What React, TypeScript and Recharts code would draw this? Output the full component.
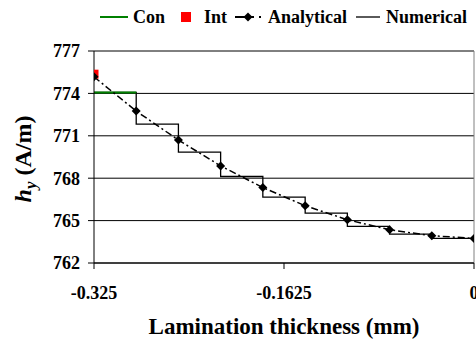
import React from 'react';
import { ComposedChart, Line, Scatter, XAxis, YAxis, CartesianGrid, ReferenceLine } from 'recharts';

const SERIF = '"Liberation Serif", "Times New Roman", Times, serif';

// node positions across the lamination (mm)
const positions = [-0.325, -0.2889, -0.2528, -0.2167, -0.1806, -0.1444, -0.1083, -0.0722, -0.0361, 0];

// analytical solution at each node
const analytical = [775.17, 772.75, 770.7, 768.87, 767.34, 766.05, 765.06, 764.35, 763.93, 763.74];

// numerical solution, one constant value per element (last repeated to close the step)
const numerical = [774.07, 771.83, 769.84, 768.12, 766.66, 765.53, 764.59, 764.05, 763.74, 763.74];

// conductor element and interface value
const conX = [-0.325, -0.2889];
const conY = [774.07, 774.07];
const intX = [-0.325];
const intY = [775.36];

const yTicks = [762, 765, 768, 771, 774, 777];
const xTicks = [-0.325, -0.1625, 0];

const analyticalData = positions.map((x, i) => ({ x, y: analytical[i] }));
const numericalData = positions.map((x, i) => ({ x, y: numerical[i] }));
const conData = conX.map((x, i) => ({ x, y: conY[i] }));
const intData = intX.map((x, i) => ({ x, y: intY[i] }));

const Diamond = (props: any) => {
  const { cx, cy } = props;
  if (cx == null || cy == null) return null;
  const r = 4.5;
  return <path d={`M${cx},${cy - r}L${cx + r},${cy}L${cx},${cy + r}L${cx - r},${cy}Z`} fill="#000" />;
};

const RedSquare = (props: any) => {
  const { cx, cy } = props;
  return <rect x={cx - 4.5} y={cy - 4.5} width={9} height={9} fill="#ff0000" />;
};

const YTitle = () => (
  <text
    x={31}
    y={159}
    transform="rotate(-90, 31, 159)"
    textAnchor="middle"
    fontFamily={SERIF}
    fontWeight="bold"
    fontSize={24}
    fill="#000"
  >
    <tspan fontStyle="italic">h</tspan>
    <tspan fontStyle="italic" fontSize={17} dy={5}>y</tspan>
    <tspan dy={-5}>{'  (A/m)'}</tspan>
  </text>
);

const legendText: React.CSSProperties = {
  position: 'absolute',
  top: 7,
  lineHeight: '20px',
  fontFamily: SERIF,
  fontWeight: 'bold',
  fontSize: 18,
  color: '#000',
  whiteSpace: 'nowrap',
};

const ChartLegend = () => (
  <div style={{ position: 'absolute', left: 0, top: 0, width: 476, height: 30 }}>
    <svg style={{ position: 'absolute', left: 0, top: 0 }} width={476} height={30}>
      <line x1={100} x2={128} y1={17} y2={17} stroke="#008000" strokeWidth={2} />
      <rect x={181} y={12} width={10} height={10} fill="#ff0000" />
      <line x1={235} x2={254} y1={17} y2={17} stroke="#000" strokeWidth={2} />
      <path d="M248,12.5L252.5,17L248,21.5L243.5,17Z" fill="#000" />
      <rect x={259} y={16} width={2} height={2} fill="#000" />
      <line x1={356} x2={380} y1={17} y2={17} stroke="#000" strokeWidth={1.3} />
    </svg>
    <span style={{ ...legendText, left: 133 }}>Con</span>
    <span style={{ ...legendText, left: 204 }}>Int</span>
    <span style={{ ...legendText, left: 268 }}>Analytical</span>
    <span style={{ ...legendText, left: 386 }}>Numerical</span>
  </div>
);

const tickStyle = { fill: '#000', fontSize: 18, fontWeight: 'bold', fontFamily: SERIF };

export default function App() {
  return (
    <div style={{ position: 'fixed', left: 0, top: 0, width: 476, height: 343, overflow: 'hidden', background: '#fff' }}>
      <ChartLegend />
      <ComposedChart width={500} height={343} margin={{ top: 51, right: 26, bottom: 0, left: 0 }}>
        <CartesianGrid vertical={false} stroke="#000" strokeWidth={1} />
        <XAxis
          type="number"
          dataKey="x"
          domain={[-0.325, 0]}
          ticks={xTicks}
          allowDataOverflow
          height={80}
          stroke="#000"
          tickSize={6}
          tickMargin={17}
          tick={tickStyle}
          tickFormatter={(v: number) => String(v)}
          label={{
            value: 'Lamination thickness (mm)',
            position: 'insideBottom',
            offset: 9,
            style: { fill: '#000', fontSize: 23, fontWeight: 'bold', fontFamily: SERIF },
          }}
        />
        <YAxis
          type="number"
          dataKey="y"
          domain={[762, 777]}
          ticks={yTicks}
          allowDataOverflow
          width={94}
          stroke="#000"
          tickSize={6}
          tickMargin={8}
          tick={tickStyle}
          label={{ content: () => <YTitle /> }}
        />
        <ReferenceLine y={777} stroke="#808080" />
        <ReferenceLine x={0} stroke="#808080" />
        <Line
          data={numericalData}
          dataKey="y"
          type="stepAfter"
          stroke="#000"
          strokeWidth={1.3}
          dot={false}
          activeDot={false}
          isAnimationActive={false}
        />
        <Line
          data={conData}
          dataKey="y"
          type="linear"
          stroke="#008000"
          strokeWidth={2}
          dot={false}
          activeDot={false}
          isAnimationActive={false}
        />
        <Scatter data={intData} dataKey="y" shape={<RedSquare />} isAnimationActive={false} />
        <Line
          data={analyticalData}
          dataKey="y"
          type="linear"
          stroke="#000"
          strokeWidth={1.5}
          strokeDasharray="7 3 2 3"
          dot={<Diamond />}
          activeDot={false}
          isAnimationActive={false}
        />
      </ComposedChart>
    </div>
  );
}
